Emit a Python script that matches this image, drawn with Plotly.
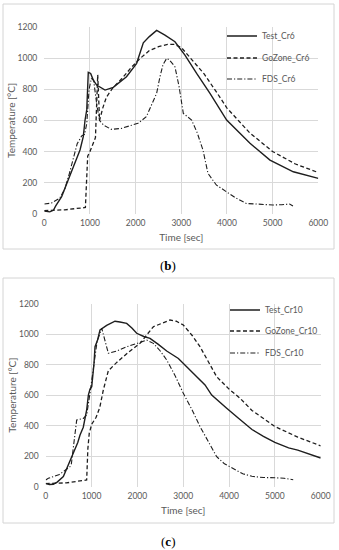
import plotly.graph_objects as go

W, H = 339, 550

# ---------------- Chart (b) data ----------------
test_cr6_t = [0, 120, 200, 250, 380, 490, 550, 635, 782, 854, 891, 930, 963, 1015, 1073, 1146, 1330, 1510,
              1800, 2022, 2168, 2300, 2460, 2642, 2861, 3080, 3336, 3628, 3993, 4504, 4942, 5453, 6000]
test_cr6 = [17, 12, 22, 50, 110, 196, 240, 300, 410, 496, 600, 670, 910, 903, 860, 828, 796, 813,
            882, 968, 1100, 1140, 1180, 1150, 1107, 1021, 903, 775, 603, 453, 345, 270, 227]

gozone_cr6_t = [0, 450, 900, 925, 950, 1000, 1060, 1120, 1170, 1210, 1280, 1360, 1500, 1700, 1900, 2100,
                2300, 2500, 2700, 2850, 3000, 3200, 3500, 3800, 4000, 4500, 5000, 5500, 6000]
gozone_cr6 = [20, 25, 40, 200, 370, 400, 440, 490, 895, 600, 680, 750, 810, 870, 940, 1000,
              1050, 1075, 1090, 1090, 1070, 1000, 900, 770, 680, 520, 400, 320, 265]

fds_cr6_t = [0, 160, 340, 450, 550, 635, 720, 818, 880, 930, 980, 1030, 1080, 1150, 1210, 1300, 1467,
             1686, 2051, 2234, 2460, 2533, 2600, 2680, 2740, 2861, 2950, 3044, 3226, 3350, 3474, 3584,
             3766, 3985, 4200, 4423, 4700, 5007, 5200, 5372, 5445]
fds_cr6 = [62, 69, 101, 160, 260, 350, 450, 500, 510, 580, 800, 870, 860, 700, 600, 570, 543,
           549, 582, 624, 775, 882, 960, 1000, 990, 946, 820, 646, 603, 520, 410, 260,
           185, 142, 100, 66, 60, 56, 58, 62, 49]

# ---------------- Chart (c) data ----------------
test_cr10_t = [0, 80, 166, 250, 385, 480, 603, 700, 749, 820, 894, 931, 967, 1004, 1054, 1076, 1130, 1185,
               1330, 1512, 1620, 1767, 1880, 1985, 2140, 2276, 2450, 2640, 2895, 3060, 3221, 3350, 3476,
               3622, 3800, 3949, 4200, 4500, 4750, 5000, 5300, 5500, 6000]
test_cr10 = [22, 14, 16, 30, 66, 130, 219, 290, 339, 390, 503, 601, 640, 656, 809, 918, 960, 1028,
             1058, 1085, 1080, 1071, 1040, 1006, 985, 973, 935, 890, 841, 790, 743, 700, 667,
             601, 550, 514, 450, 375, 330, 290, 255, 240, 188]

gozone_cr10_t = [0, 450, 894, 920, 950, 1004, 1100, 1180, 1257, 1366, 1550, 1800, 2058, 2349, 2712, 2850,
                 3003, 3200, 3367, 3550, 3731, 4000, 4240, 4500, 5000, 5500, 6000]
gozone_cr10 = [20, 25, 44, 250, 350, 410, 455, 520, 634, 760, 815, 880, 940, 1049, 1093, 1085,
               1060, 990, 918, 820, 721, 640, 580, 500, 395, 325, 268]

fds_cr10_t = [0, 57, 300, 450, 530, 560, 620, 676, 821, 894, 967, 1050, 1120, 1222, 1290, 1367, 1550,
              1767, 2000, 2203, 2349, 2500, 2640, 2820, 3003, 3200, 3367, 3550, 3731, 3900, 4094, 4300,
              4500, 4750, 5000, 5200, 5400]
fds_cr10 = [44, 55, 80, 110, 131, 150, 300, 437, 448, 470, 614, 800, 950, 1039, 960, 875, 890,
            918, 940, 962, 940, 890, 831, 730, 612, 500, 394, 290, 197, 150, 120, 85,
            68, 60, 59, 55, 46]

names_b = ["Test_Cr6", "GoZone_Cr6", "FDS_Cr6"]
names_c = ["Test_Cr10", "GoZone_Cr10", "FDS_Cr10"]
x_ticks = [0, 1000, 2000, 3000, 4000, 5000, 6000]
y_ticks = [0, 200, 400, 600, 800, 1000, 1200]

LINE_COLOR = "#1e1e1e"
GRAY = "#595959"
FONT = "Lato"
dashes = ["solid", "4px,2.5px", "5px,2px,1.2px,2px"]
widths = [1.4, 1.3, 1.1]


def px_x(p):
    return p / W


def px_y(p):
    return 1 - p / H


fig = go.Figure()

series_b = [(test_cr6_t, test_cr6), (gozone_cr6_t, gozone_cr6), (fds_cr6_t, fds_cr6)]
series_c = [(test_cr10_t, test_cr10), (gozone_cr10_t, gozone_cr10), (fds_cr10_t, fds_cr10)]

for i, (t, v) in enumerate(series_b):
    fig.add_trace(go.Scatter(x=t, y=v, mode="lines", name=names_b[i], xaxis="x", yaxis="y",
                             line=dict(color=LINE_COLOR, width=widths[i], dash=dashes[i]),
                             showlegend=True,
                             legend="legend" if i == 0 else f"legend{i + 1}"))
for i, (t, v) in enumerate(series_c):
    fig.add_trace(go.Scatter(x=t, y=v, mode="lines", name=names_c[i], xaxis="x2", yaxis="y2",
                             line=dict(color=LINE_COLOR, width=widths[i], dash=dashes[i]),
                             showlegend=True,
                             legend=f"legend{i + 4}"))

axis_common = dict(showline=False, zeroline=False, showgrid=True, gridcolor="#d9d9d9", gridwidth=1,
                   ticks="", tickfont=dict(family=FONT, size=8.5, color=GRAY), automargin=False)

layout = dict(
    width=W, height=H,
    margin=dict(l=0, r=0, t=0, b=0),
    showlegend=True,
    paper_bgcolor="white", plot_bgcolor="white",
    font=dict(family=FONT, color=GRAY),
    xaxis=dict(domain=[px_x(44.3), px_x(318.3)], range=[0, 6000], tickvals=x_ticks, anchor="y",
               title=dict(text="Time [sec]", font=dict(family=FONT, size=10, color=GRAY), standoff=6),
               ticklabelstandoff=3, **axis_common),
    yaxis=dict(domain=[px_y(213.7), px_y(27.3)], range=[0, 1200], tickvals=y_ticks, anchor="x",
               title=dict(text="Temperature [°C]", font=dict(family=FONT, size=10, color=GRAY), standoff=0),
               ticklabelstandoff=6, **axis_common),
    xaxis2=dict(domain=[px_x(45.7), px_x(320.7)], range=[0, 6000], tickvals=x_ticks, anchor="y2",
                title=dict(text="Time [sec]", font=dict(family=FONT, size=10, color=GRAY), standoff=6),
                ticklabelstandoff=3, **axis_common),
    yaxis2=dict(domain=[px_y(486.7), px_y(303.7)], range=[0, 1200], tickvals=y_ticks, anchor="x2",
                title=dict(text="Temperature [°C]", font=dict(family=FONT, size=10, color=GRAY), standoff=0),
                ticklabelstandoff=6, **axis_common),
)

leg_rows_b = [36, 58, 79]
leg_rows_c = [310, 331, 353]
for i, yp in enumerate(leg_rows_b + leg_rows_c):
    key = "legend" if i == 0 else f"legend{i + 1}"
    xp = 222 if i < 3 else 225
    layout[key] = dict(x=px_x(xp), y=px_y(yp), xanchor="left", yanchor="middle",
                       bgcolor="rgba(0,0,0,0)", borderwidth=0, visible=True,
                       font=dict(family=FONT, size=8.5, color=GRAY),
                       itemwidth=30)

fig.update_layout(**layout)

# outer frames
for top, bottom in [(4, 249), (278, 523)]:
    fig.add_shape(type="rect", xref="paper", yref="paper", x0=px_x(3), x1=px_x(334),
                  y0=px_y(bottom), y1=px_y(top), line=dict(color="#d4d4d4", width=1), layer="below")

# panel labels
for txt, yp in [("(<b>b</b>)", 265), ("(<b>c</b>)", 541)]:
    fig.add_annotation(text=txt, xref="paper", yref="paper", x=px_x(168), y=px_y(yp),
                       showarrow=False, font=dict(family="Liberation Serif", size=13, color="black"),
                       xanchor="center", yanchor="middle")

fig.write_html("out.html", config={"displayModeBar": False},
               post_script="document.body.style.margin='0';document.body.style.padding='0';")
